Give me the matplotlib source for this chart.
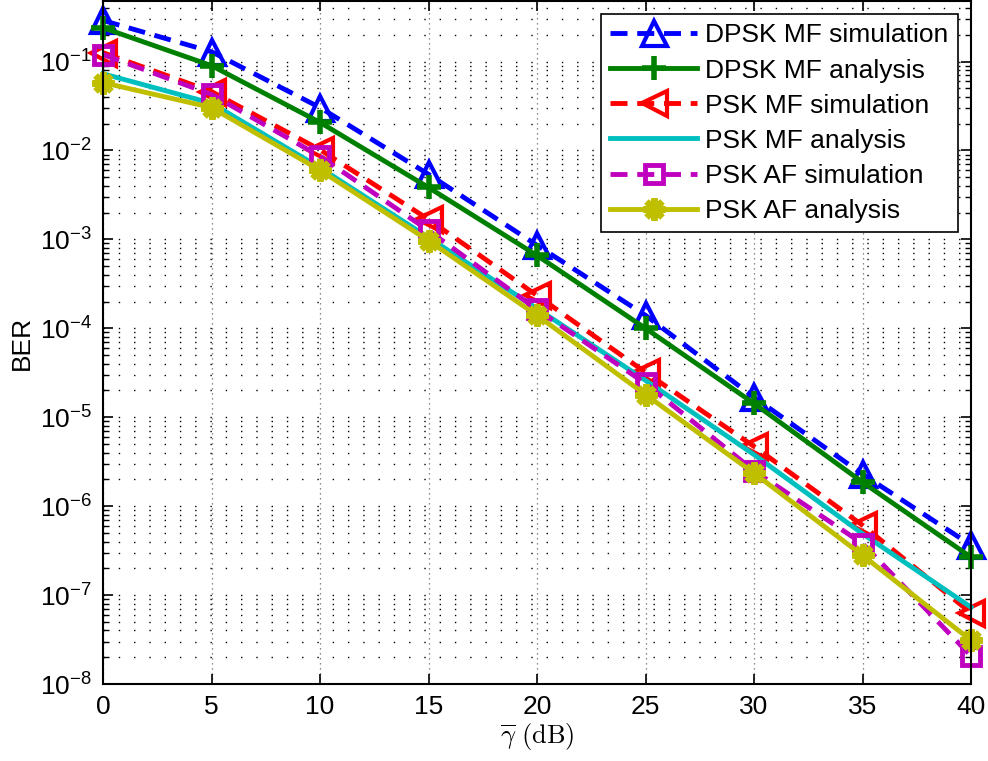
import numpy as np
import matplotlib
matplotlib.use('Agg')
import matplotlib.pyplot as plt
from matplotlib.ticker import FixedLocator, NullFormatter, LogFormatterSciNotation

plt.rcParams['font.family'] = ['Liberation Sans', 'DejaVu Sans']
plt.rcParams['mathtext.fontset'] = 'custom'
plt.rcParams['mathtext.rm'] = 'Liberation Sans'
plt.rcParams['mathtext.it'] = 'Liberation Sans:italic'
plt.rcParams['mathtext.bf'] = 'Liberation Sans:bold'

# data
gamma = [0, 5, 10, 15, 20, 25, 30, 35, 40]
dpsk_mf_sim = [0.29, 0.129, 0.0304, 5.4e-3, 8.6e-4, 1.4e-4, 1.68e-5, 2.29e-6, 3.65e-7]
dpsk_mf_ana = [0.24, 0.090, 0.0207, 3.84e-3, 6.6e-4, 1.0e-4, 1.43e-5, 1.86e-6, 2.67e-7]
psk_mf_sim = [0.126, 0.046, 0.0102, 1.68e-3, 2.34e-4, 3.2e-5, 4.7e-6, 6.1e-7, 6.3e-8]
psk_mf_ana = [0.073, 0.034, 0.0064, 1.05e-3, 1.67e-4, 2.6e-5, 3.8e-6, 4.9e-7, 7.3e-8]
psk_af_sim = [0.12, 0.0427, 0.0086, 1.26e-3, 1.63e-4, 2.4e-5, 2.5e-6, 3.8e-7, 2.07e-8]
psk_af_ana = [0.058, 0.0304, 0.006, 9.7e-4, 1.4e-4, 1.8e-5, 2.35e-6, 2.8e-7, 3.1e-8]

labels = ['DPSK MF simulation', 'DPSK MF analysis', 'PSK MF simulation',
          'PSK MF analysis', 'PSK AF simulation', 'PSK AF analysis']
decades = [1e-8, 1e-7, 1e-6, 1e-5, 1e-4, 1e-3, 1e-2, 1e-1]

fig = plt.figure(figsize=(9.88, 7.61), dpi=100)
ax = fig.add_axes([103 / 988, 1 - 684 / 761, 868 / 988, 683 / 761])

lw = 3.5
dash = (3.5, 2.0)
ax.plot(gamma, dpsk_mf_sim, color=(0, 0, 1), lw=lw, dashes=dash, marker='^',
        ms=18, mfc='none', mew=3, label=labels[0], clip_on=False)
ax.plot(gamma, dpsk_mf_ana, color=(0, 0.5, 0), lw=lw, marker='+',
        ms=17, mew=4, label=labels[1], clip_on=False)
ax.plot(gamma, psk_mf_sim, color=(1, 0, 0), lw=lw, dashes=dash, marker='<',
        ms=18, mfc='none', mew=3, label=labels[2], clip_on=False)
ax.plot(gamma, psk_mf_ana, color=(0, 0.75, 0.75), lw=lw, label=labels[3],
        clip_on=False)
ax.plot(gamma, psk_af_sim, color=(0.75, 0, 0.75), lw=lw, dashes=dash, marker='s',
        ms=13, mfc='none', mew=3.5, label=labels[4], clip_on=False)
ax.plot(gamma, psk_af_ana, color=(0.75, 0.75, 0), lw=lw, marker=(8, 2, 0),
        ms=16, mew=4.5, label=labels[5], clip_on=False)

ax.set_yscale('log')
ax.set_xlim(0, 40)
ax.set_ylim(1e-8, 0.48)
ax.set_xticks(np.arange(0, 41, 5))
minors = [d * k for d in decades for k in range(2, 10) if d * k < 0.48]
ax.yaxis.set_major_locator(FixedLocator(decades))
ax.yaxis.set_minor_locator(FixedLocator(minors))
ax.yaxis.set_major_formatter(LogFormatterSciNotation())
ax.yaxis.set_minor_formatter(NullFormatter())

ax.tick_params(which='both', direction='in', top=True, right=True, labelsize=19)
ax.tick_params(which='major', length=7, width=1.2, pad=8)
ax.tick_params(which='minor', length=4, width=1.0)
for s in ax.spines.values():
    s.set_linewidth(1.5)

ax.grid(True, which='major', axis='x', color='0.4', linestyle=(0, (1, 3)), lw=0.9)
ax.grid(True, which='both', axis='y', color='k', linestyle=(0, (1, 10)), lw=1.0)
ax.set_axisbelow(True)

ax.set_ylabel('BER', fontsize=19, labelpad=4)
ax.set_xlabel(r'$\overline{\gamma}\ \mathrm{(dB)}$', fontsize=19,
              math_fontfamily='cm', labelpad=1)

leg = ax.legend(loc='upper right', fontsize=19, handlelength=3.3,
                handletextpad=0.3, labelspacing=0.42, borderaxespad=0.5,
                borderpad=0.35, fancybox=False, framealpha=1, edgecolor='k')
leg.get_frame().set_linewidth(1.2)

fig.savefig('out.png', dpi=100)
